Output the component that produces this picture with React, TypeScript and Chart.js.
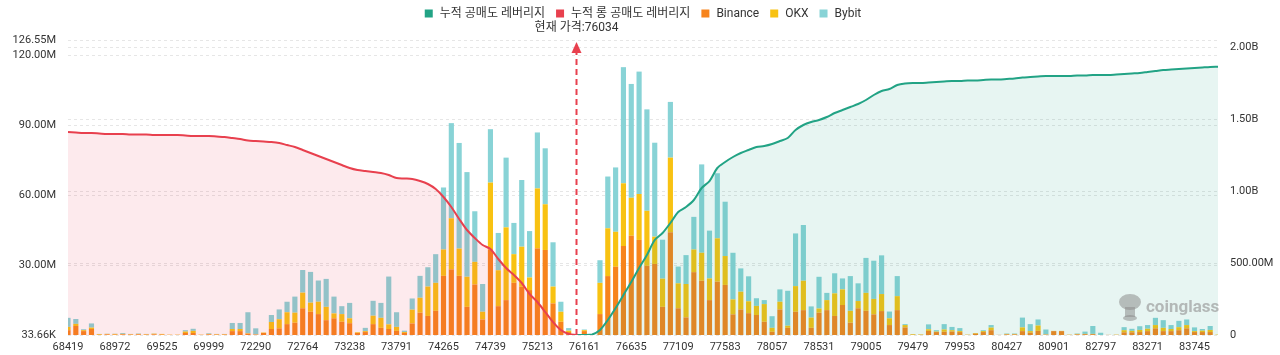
import React, { useEffect, useRef } from "react";
import { Chart, registerables } from "chart.js";

Chart.register(...registerables);

// ---------- data ----------
const TICK_LABELS = [
  "68419", "68972", "69525", "69999", "72290", "72764", "73238", "73791", "74265",
  "74739", "75213", "76161", "76635", "77109", "77583", "78057", "78531", "79005",
  "79479", "79953", "80427", "80901", "82797", "83271", "83745",
];
const TICK_EVERY = 6;

// stacked liquidation bars, in millions
const BINANCE = [
  2.1, 3.9, 1.7, 2.6, 0.1, 0.3, 0.2, 0.3, 0.2, 0.3,
  0.2, 0.3, 0.2, 0.1, 0.1, 0.9, 0.9, 0.1, 0.3, 0.2,
  0.2, 1.7, 1.7, 0.6, 0.2, 0.9, 2.6, 2.9, 4.7, 5.3,
  11.5, 10.0, 9.0, 6.4, 7.2, 5.7, 5.1, 0.9, 1.3, 4.7,
  3.1, 2.6, 1.8, 0.9, 5.0, 9.6, 8.2, 10.4, 25.4, 28.2,
  25.4, 12.1, 21.7, 6.7, 36.8, 12.4, 15.0, 22.4, 20.7, 19.3,
  37.2, 36.5, 13.6, 5.7, 1.3, 0, 1.7, 0.1, 9.0, 25.3,
  29.3, 38.2, 42.6, 40.8, 29.7, 30.5, 12.1, 44.1, 11.5, 7.6,
  27.0, 23.3, 15.0, 22.9, 21.5, 8.9, 11.0, 9.4, 8.6, 5.7,
  1.4, 11.0, 3.1, 10.0, 10.7, 3.1, 9.6, 10.7, 8.2, 12.9,
  5.3, 11.5, 10.4, 8.9, 10.3, 4.3, 10.7, 3.3, 0.1, 0.1,
  1.8, 1.3, 1.4, 1.5, 1.3, 0.1, 0.6, 1.3, 2.1, 0.1,
  0.3, 0.3, 1.7, 1.0, 1.8, 0.2, 1.7, 1.7, 0.1, 0.3,
  0.4, 0.4, 0, 0.1, 0.1, 1.2, 1.2, 1.3, 1.7, 2.9,
  1.7, 1.7, 2.1, 2.9, 1.3, 1.3, 1.3, 0,
];
const OKX = [
  1.4, 0.9, 0.4, 0.6, 0.3, 0.2, 0.3, 0.2, 0.2, 0.2,
  0.2, 0.3, 0.3, 0.1, 0.1, 0.6, 0.9, 0.1, 0.2, 0.2,
  0.2, 0.9, 0.9, 0.2, 0.1, 0.2, 3.0, 3.9, 5.1, 4.3,
  6.7, 3.9, 5.3, 5.7, 2.1, 3.3, 2.1, 0.3, 0.4, 3.6,
  4.3, 2.0, 1.7, 0.4, 5.9, 6.4, 12.6, 12.0, 11.3, 21.9,
  11.7, 12.9, 9.7, 3.3, 28.6, 15.4, 31.2, 12.3, 17.2, 5.4,
  25.7, 19.6, 7.2, 4.3, 0.6, 0, 0.4, 0, 13.4, 20.5,
  15.0, 26.9, 16.3, 19.7, 23.6, 11.7, 12.1, 32.0, 10.7, 14.3,
  9.7, 12.0, 9.3, 18.6, 12.4, 6.4, 7.6, 5.1, 3.9, 7.6,
  1.7, 3.3, 0.9, 11.0, 12.6, 4.4, 1.8, 4.3, 9.7, 6.7,
  5.1, 3.1, 7.7, 6.6, 7.3, 2.9, 6.0, 1.0, 0.3, 0.2,
  0.7, 0.2, 1.0, 0.6, 0.4, 0.1, 0.3, 0.4, 1.1, 0,
  0.2, 0.2, 1.6, 0.7, 2.3, 0.1, 0.1, 0.1, 0.1, 0.2,
  0.1, 0.1, 0, 0, 0.1, 0.9, 0.6, 0.9, 1.0, 1.4,
  1.4, 0.9, 1.3, 1.4, 0.4, 0.6, 0.9, 0.2,
];
const BYBIT = [
  3.9, 2.1, 0.4, 1.8, 0.1, 0.1, 0.1, 0.4, 0.1, 0.2,
  0.1, 0.1, 0, 0, 0, 0.6, 0.9, 0, 0.3, 0.1,
  0.1, 2.6, 2.6, 9.0, 2.6, 0, 3.0, 4.2, 4.5, 6.9,
  9.7, 13.2, 9.1, 12.0, 7.2, 3.4, 6.6, 0, 1.4, 6.4,
  6.4, 20.5, 6.3, 0.6, 4.8, 9.4, 8.3, 12.3, 26.6, 40.8,
  45.3, 44.9, 21.7, 11.9, 22.9, 16.0, 29.9, 13.4, 28.6, 19.9,
  24.0, 24.0, 19.0, 4.3, 1.1, 0, 0.3, 0, 9.7, 22.2,
  27.6, 49.8, 48.8, 52.5, 43.5, 40.3, 16.7, 23.9, 7.2, 12.4,
  14.0, 37.9, 20.5, 27.9, 23.3, 20.0, 10.0, 10.7, 3.3, 1.7,
  5.0, 5.3, 15.0, 22.6, 23.9, 4.8, 13.6, 3.1, 8.6, 4.7,
  14.9, 7.6, 15.0, 16.4, 16.6, 2.9, 8.6, 0.4, 0, 0,
  2.1, 0.6, 2.3, 1.4, 1.3, 0, 0, 0.4, 1.1, 0,
  0.2, 0.2, 4.2, 3.0, 2.6, 2.1, 0, 0, 0, 0.2,
  1.0, 3.4, 1.0, 0, 0, 1.3, 0.9, 1.6, 1.6, 3.1,
  3.3, 1.7, 2.7, 2.4, 1.6, 0.7, 1.7, 0,
];

// cumulative long leverage (millions), from the first category up to the current price
const LONG_CUM = [
  1410.6, 1407.2, 1403.7, 1403.7, 1400.2, 1396.7, 1396.7, 1396.7, 1393.3, 1393.3,
  1393.3, 1389.8, 1389.8, 1389.8, 1389.8, 1386.3, 1382.9, 1382.9, 1382.9, 1379.4,
  1375.9, 1369.0, 1362.0, 1351.6, 1348.1, 1344.6, 1341.2, 1334.2, 1320.3, 1306.4,
  1285.6, 1264.7, 1243.9, 1223.0, 1202.2, 1181.3, 1160.5, 1146.6, 1139.6, 1132.7,
  1125.7, 1111.8, 1091.0, 1087.5, 1084.0, 1070.1, 1049.3, 1014.6, 959.0, 889.5,
  806.1, 729.6, 674.1, 625.4, 597.6, 528.1, 465.6, 416.9, 361.3, 284.9,
  229.3, 159.8, 90.3, 34.7, 6.9, 0,
];
// cumulative short leverage (millions), from the current price to the last category
const SHORT_CUM_START = 65;
const SHORT_CUM = [
  0, 0, 3.5, 34.7, 104.2, 187.6, 278.0, 368.3, 465.6, 555.9,
  660.2, 708.8, 778.3, 854.7, 889.5, 938.1, 1021.5, 1070.1, 1160.5, 1202.2,
  1236.9, 1264.7, 1285.6, 1306.4, 1313.4, 1327.3, 1348.1, 1369.0, 1424.5, 1459.3,
  1480.1, 1494.0, 1514.9, 1542.7, 1563.5, 1584.4, 1605.2, 1633.0, 1667.8, 1695.6,
  1709.5, 1737.3, 1747.7, 1751.2, 1751.2, 1754.6, 1758.1, 1761.6, 1765.0, 1765.0,
  1768.5, 1768.5, 1772.0, 1775.5, 1775.5, 1779.0, 1782.4, 1789.4, 1792.8, 1796.3,
  1799.8, 1799.8, 1799.8, 1799.8, 1803.3, 1803.3, 1806.7, 1806.7, 1806.7, 1810.2,
  1813.7, 1817.2, 1820.6, 1827.6, 1834.5, 1841.5, 1845.0, 1848.4, 1851.9, 1855.4,
  1858.9, 1862.3, 1864.4,
];

const CURRENT_PRICE = 76034;
const CURRENT_INDEX = 65;

const LEFT_TICKS = [0.03366, 30, 60, 90, 120, 126.55];
const RIGHT_TICKS = [0, 500, 1000, 1500, 2000];
const RIGHT_MAX = 2050;

const SERIES_NAMES = ["누적 공매도 레버리지", "누적 롱 공매도 레버리지", "Binance", "OKX", "Bybit"];

// ---------- styles ----------
const FONT = "Roboto, 'Noto Sans CJK KR', 'Noto Sans', sans-serif";
const GREEN = "#22a385";
const RED = "#e8404e";
const ORANGE = "#f7841c";
const YELLOW = "#f8c212";
const TEAL = "#88d3d6";
const TEXT = "#333333";
const GRID = "#e6e6e6";

const CATEGORIES = BINANCE.map((_, i) =>
  i % TICK_EVERY === 0 ? TICK_LABELS[i / TICK_EVERY] ?? "" : ""
);
const LONG_DATA = CATEGORIES.map((_, i) => (i < LONG_CUM.length ? LONG_CUM[i] : null));
const SHORT_DATA = CATEGORIES.map((_, i) =>
  i >= SHORT_CUM_START ? SHORT_CUM[i - SHORT_CUM_START] ?? null : null
);

const fmtLeft = (v: number) => (v < 1 ? (v * 1000).toFixed(2) + "K" : v.toFixed(2) + "M");
const fmtRight = (v: number) =>
  v === 0 ? "0" : v >= 1000 ? (v / 1000).toFixed(2) + "B" : v.toFixed(2) + "M";

const overlayPlugin = {
  id: "overlay",
  afterDatasetsDraw(chart: any) {
    const { ctx, chartArea, scales } = chart;
    const x = scales.x.getPixelForValue(CURRENT_INDEX);
    ctx.save();
    // current price marker
    ctx.strokeStyle = RED;
    ctx.lineWidth = 2;
    ctx.setLineDash([6, 4]);
    ctx.beginPath();
    ctx.moveTo(x, chartArea.bottom);
    ctx.lineTo(x, chartArea.top + 12);
    ctx.stroke();
    ctx.setLineDash([]);
    ctx.fillStyle = RED;
    ctx.beginPath();
    ctx.moveTo(x, chartArea.top + 2);
    ctx.lineTo(x - 5, chartArea.top + 13);
    ctx.lineTo(x + 5, chartArea.top + 13);
    ctx.closePath();
    ctx.fill();
    ctx.fillStyle = TEXT;
    ctx.font = `12px ${FONT}`;
    ctx.textAlign = "center";
    ctx.textBaseline = "middle";
    ctx.fillText(`현재 가격:${CURRENT_PRICE}`, x, chartArea.top - 12);

    // watermark
    const wx = chartArea.right - 88;
    const wy = chartArea.bottom - 30;
    ctx.fillStyle = "rgba(140,140,140,0.55)";
    ctx.beginPath();
    ctx.ellipse(wx, wy - 3, 11, 8, 0, 0, Math.PI * 2);
    ctx.fill();
    ctx.fillRect(wx - 5, wy + 2, 10, 10);
    ctx.beginPath();
    ctx.ellipse(wx, wy + 13, 7, 3, 0, 0, Math.PI * 2);
    ctx.fill();
    ctx.fillStyle = "rgba(150,150,150,0.65)";
    ctx.font = `bold 17px ${FONT}`;
    ctx.textAlign = "left";
    ctx.textBaseline = "alphabetic";
    ctx.fillText("coinglass", wx + 16, wy + 7);
    ctx.restore();
  },
  afterDraw(chart: any) {
    const { ctx, chartArea } = chart;
    const colors = [GREEN, RED, ORANGE, YELLOW, TEAL];
    ctx.save();
    ctx.font = `12px ${FONT}`;
    const box = 8;
    const gap = 7;
    const pad = 11;
    const widths = SERIES_NAMES.map((t) => box + gap + ctx.measureText(t).width);
    const total = widths.reduce((a, b) => a + b, 0) + pad * (widths.length - 1);
    let x = (chartArea.left + chartArea.right) / 2 - total / 2;
    const y = 13.5;
    ctx.textBaseline = "middle";
    ctx.textAlign = "left";
    SERIES_NAMES.forEach((t, i) => {
      ctx.fillStyle = colors[i];
      ctx.fillRect(x, y - box / 2, box, box);
      ctx.fillStyle = TEXT;
      ctx.fillText(t, x + box + gap, y + 0.5);
      x += widths[i] + pad;
    });
    ctx.restore();
  },
};

export default function App() {
  const ref = useRef<HTMLCanvasElement>(null);

  useEffect(() => {
    const canvas = ref.current;
    if (!canvas) return;
    const tickFont = { size: 11, family: FONT };
    const chart = new Chart(canvas, {
      type: "bar",
      data: {
        labels: CATEGORIES,
        datasets: [
          {
            type: "line",
            label: SERIES_NAMES[0],
            data: SHORT_DATA,
            yAxisID: "y1",
            borderColor: GREEN,
            backgroundColor: "rgba(34,163,133,0.11)",
            borderWidth: 2,
            pointRadius: 0,
            tension: 0.3,
            fill: "origin",
            spanGaps: false,
            order: 0,
          } as any,
          {
            type: "line",
            label: SERIES_NAMES[1],
            data: LONG_DATA,
            yAxisID: "y1",
            borderColor: RED,
            backgroundColor: "rgba(240,64,88,0.11)",
            borderWidth: 2,
            pointRadius: 0,
            tension: 0.3,
            fill: "origin",
            spanGaps: false,
            order: 0,
          } as any,
          {
            type: "bar",
            label: SERIES_NAMES[2],
            data: BINANCE,
            backgroundColor: ORANGE,
            yAxisID: "y",
            stack: "liq",
            barPercentage: 0.66,
            categoryPercentage: 1,
            order: 1,
          },
          {
            type: "bar",
            label: SERIES_NAMES[3],
            data: OKX,
            backgroundColor: YELLOW,
            yAxisID: "y",
            stack: "liq",
            barPercentage: 0.66,
            categoryPercentage: 1,
            order: 1,
          },
          {
            type: "bar",
            label: SERIES_NAMES[4],
            data: BYBIT,
            backgroundColor: TEAL,
            yAxisID: "y",
            stack: "liq",
            barPercentage: 0.66,
            categoryPercentage: 1,
            order: 1,
          },
        ],
      },
      options: {
        responsive: false,
        animation: false,
        devicePixelRatio: 1,
        events: [],
        layout: { padding: { top: 40, left: 0, right: 0, bottom: 0 } },
        plugins: {
          legend: { display: false },
          tooltip: { enabled: false },
        },
        scales: {
          x: {
            type: "category",
            offset: false,
            stacked: true,
            grid: { display: false, drawTicks: false },
            border: { display: false },
            ticks: {
              autoSkip: false,
              maxRotation: 0,
              minRotation: 0,
              padding: 6,
              color: TEXT,
              font: tickFont,
            },
            afterFit: (s: any) => {
              s.height = 20;
            },
          },
          y: {
            position: "left",
            stacked: true,
            min: LEFT_TICKS[0],
            max: LEFT_TICKS[LEFT_TICKS.length - 1],
            afterBuildTicks: (s: any) => {
              s.ticks = LEFT_TICKS.map((v) => ({ value: v }));
            },
            grid: { color: GRID, lineWidth: 1, drawTicks: false },
            border: { display: false, dash: [3, 3] },
            ticks: {
              padding: 12,
              color: TEXT,
              font: tickFont,
              callback: (v: any) => fmtLeft(Number(v)),
            },
            afterFit: (s: any) => {
              s.width = 68;
            },
          },
          y1: {
            position: "right",
            stacked: false,
            min: 0,
            max: RIGHT_MAX,
            afterBuildTicks: (s: any) => {
              s.ticks = RIGHT_TICKS.map((v) => ({ value: v }));
            },
            grid: { color: GRID, lineWidth: 1, drawTicks: false },
            border: { display: false, dash: [3, 3] },
            ticks: {
              padding: 12,
              color: TEXT,
              font: tickFont,
              callback: (v: any) => fmtRight(Number(v)),
            },
            afterFit: (s: any) => {
              s.width = 62;
            },
          },
        },
      } as any,
      plugins: [overlayPlugin],
    });
    return () => chart.destroy();
  }, []);

  return (
    <div
      style={{
        position: "fixed",
        left: 0,
        top: 0,
        width: 1280,
        height: 355,
        background: "#ffffff",
      }}
    >
      <canvas ref={ref} width={1280} height={355} style={{ display: "block" }} />
    </div>
  );
}
